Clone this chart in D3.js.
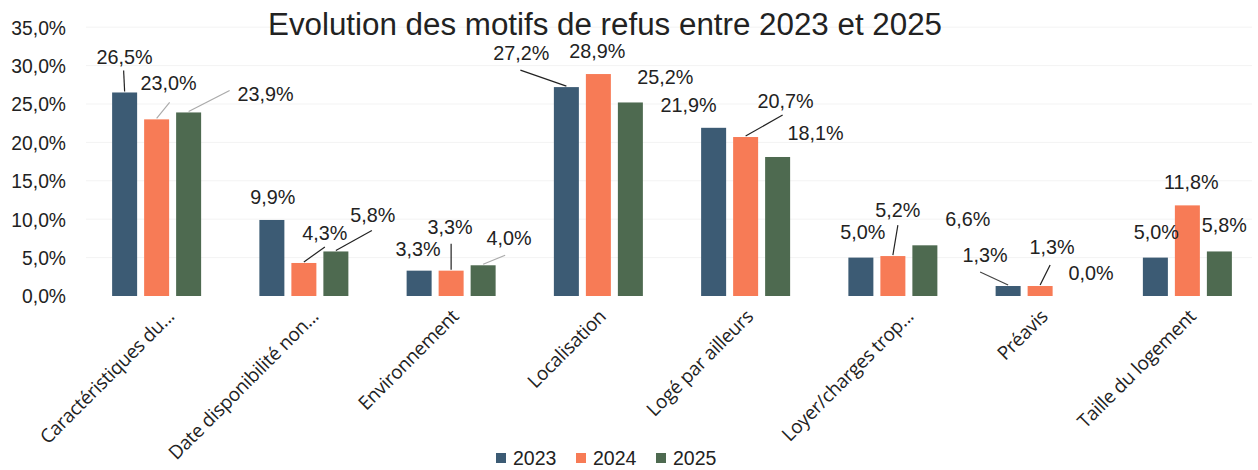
<!DOCTYPE html>
<html><head><meta charset="utf-8">
<script src="https://cdn.jsdelivr.net/npm/d3@7"></script>
<style>
html,body{margin:0;padding:0;background:#fff;}
svg{display:block;}
</style></head>
<body>
<svg id="chart" width="1258" height="470"></svg>
<script>
// ---- data ----
const categories = ["Caractéristiques du...", "Date disponibilité non...", "Environnement", "Localisation", "Logé par ailleurs", "Loyer/charges trop...", "Préavis", "Taille du logement"];
const years = ["2023", "2024", "2025"];
const values2023 = [26.5, 9.9, 3.3, 27.2, 21.9, 5.0, 1.3, 5.0];
const values2024 = [23.0, 4.3, 3.3, 28.9, 20.7, 5.2, 1.3, 11.8];
const values2025 = [23.9, 5.8, 4.0, 25.2, 18.1, 6.6, 0.0, 5.8];
const yTicks = [0, 5, 10, 15, 20, 25, 30, 35];
const title = "Evolution des motifs de refus entre 2023 et 2025";

// ---- layout (label displacements relative to bar top, manual as in source) ----
const colors = ["#3c5b74", "#f77b56", "#4e6a50"];
const labelOffsets = [
  [[0,-36],[12,-36],[77,-19]],
  [[1,-23],[21,-30],[37,-37]],
  [[-1,-22],[-1,-44],[26,-27]],
  [[-45,-34],[-1,-23],[35,-26]],
  [[-25,-23],[40,-36],[38,-24]],
  [[2,-26],[5,-46],[43,-26]],
  [[-23,-31],[12,-39],[19,-23]],
  [[1,-26],[4,-24],[5,-27]]
];
// leader lines: [category, series, end dx, end dy relative to label centre, colour]
const leaders = [
  [0,0,-1,14,"#222"],[0,1,1,19,"#aaa"],[0,2,-36,-3,"#aaa"],
  [1,1,0,14,"#222"],[1,2,-1,16,"#222"],
  [2,1,1,17,"#222"],[2,2,-4,17,"#aaa"],
  [3,0,-1,17,"#222"],
  [4,1,-3,14,"#222"],
  [5,1,0,15,"#222"],
  [6,0,-5,17,"#444"],[6,1,-2,18,"#222"]
];
const catLabelShift = [14, 11, 4, 4, 4, 17, 4, 5];

const series = [values2023, values2024, values2025];
const svg = d3.select("#chart");
const font = "'Liberation Sans', Arial, sans-serif";

const x0 = d3.scaleBand().domain(categories).range([83, 1261]).paddingInner(0).paddingOuter(0);
const groupW = 89;
const x1 = d3.scaleBand().domain(years).range([0, groupW]).paddingInner(7/32).paddingOuter(0);
const y = d3.scaleLinear().domain([0, 35]).range([296, 27.2]);

// gridlines
svg.append("g").selectAll("line").data(yTicks.slice(1)).join("line")
  .attr("x1", 86).attr("x2", 1252)
  .attr("y1", d => y(d)).attr("y2", d => y(d))
  .attr("stroke", "#f3f3f3").attr("stroke-width", 1);

// y axis
const fmt = v => d3.format(".1f")(v).replace(".", ",") + "%";
const yAxis = d3.axisLeft(y).tickValues(yTicks).tickFormat(fmt).tickSize(0).tickPadding(0);
const gy = svg.append("g").attr("transform", "translate(66,0)").call(yAxis);
gy.select(".domain").remove();
gy.selectAll("text").attr("font-family", font).attr("font-size", 19.3).attr("fill", "#222").attr("dy", "0.36em");

// bars
const groups = svg.append("g").selectAll("g").data(categories).join("g")
  .attr("transform", d => `translate(${x0(d) + x0.bandwidth()/2 - groupW/2},0)`);
groups.selectAll("rect").data((c, i) => years.map((yr, j) => ({yr, j, v: series[j][i]}))).join("rect")
  .attr("x", d => x1(d.yr)).attr("width", x1.bandwidth())
  .attr("y", d => y(d.v)).attr("height", d => y(0) - y(d.v))
  .attr("fill", d => colors[d.j]);

function barCx(i, j){ return x0(categories[i]) + x0.bandwidth()/2 - groupW/2 + x1(years[j]) + x1.bandwidth()/2; }

// leader lines
svg.append("g").selectAll("line").data(leaders).join("line")
  .attr("x1", d => barCx(d[0], d[1]))
  .attr("y1", d => y(series[d[1]][d[0]]) - 1)
  .attr("x2", d => barCx(d[0], d[1]) + labelOffsets[d[0]][d[1]][0] + d[2])
  .attr("y2", d => y(series[d[1]][d[0]]) + labelOffsets[d[0]][d[1]][1] + d[3])
  .attr("stroke", d => d[4]).attr("stroke-width", 1.2);

// data labels
const labels = [];
categories.forEach((c, i) => years.forEach((yr, j) => labels.push({i, j, v: series[j][i]})));
svg.append("g").selectAll("text").data(labels).join("text")
  .attr("x", d => barCx(d.i, d.j) + labelOffsets[d.i][d.j][0])
  .attr("y", d => y(d.v) + labelOffsets[d.i][d.j][1])
  .attr("dy", "0.36em")
  .attr("text-anchor", "middle")
  .attr("font-family", font).attr("font-size", 19.8).attr("fill", "#222")
  .text(d => fmt(d.v));

// x axis labels
svg.append("g").selectAll("text").data(categories).join("text")
  .attr("transform", (d, i) => `translate(${x0(d) + x0.bandwidth()/2 + catLabelShift[i]},313) rotate(-45)`)
  .attr("text-anchor", "end").attr("dy", "0.35em")
  .attr("font-family", "'Open Sans', sans-serif").attr("font-size", 19).attr("letter-spacing", "-0.3px").attr("fill", "#222")
  .text(d => d);

// title
svg.append("text").attr("x", 268).attr("y", 35)
  .attr("textLength", 674).attr("lengthAdjust", "spacingAndGlyphs")
  .attr("font-family", font).attr("font-size", 31).attr("fill", "#222")
  .text(title);

// legend
const legendX = [496, 576, 656];
const lg = svg.append("g").selectAll("g").data(years).join("g")
  .attr("transform", (d, j) => `translate(${legendX[j]},458)`);
lg.append("rect").attr("x", 0).attr("y", -5).attr("width", 10).attr("height", 10).attr("fill", (d, j) => colors[j]);
lg.append("text").attr("x", 17).attr("dy", "0.36em")
  .attr("font-family", font).attr("font-size", 19.5).attr("fill", "#222").text(d => d);
</script>
</body></html>
